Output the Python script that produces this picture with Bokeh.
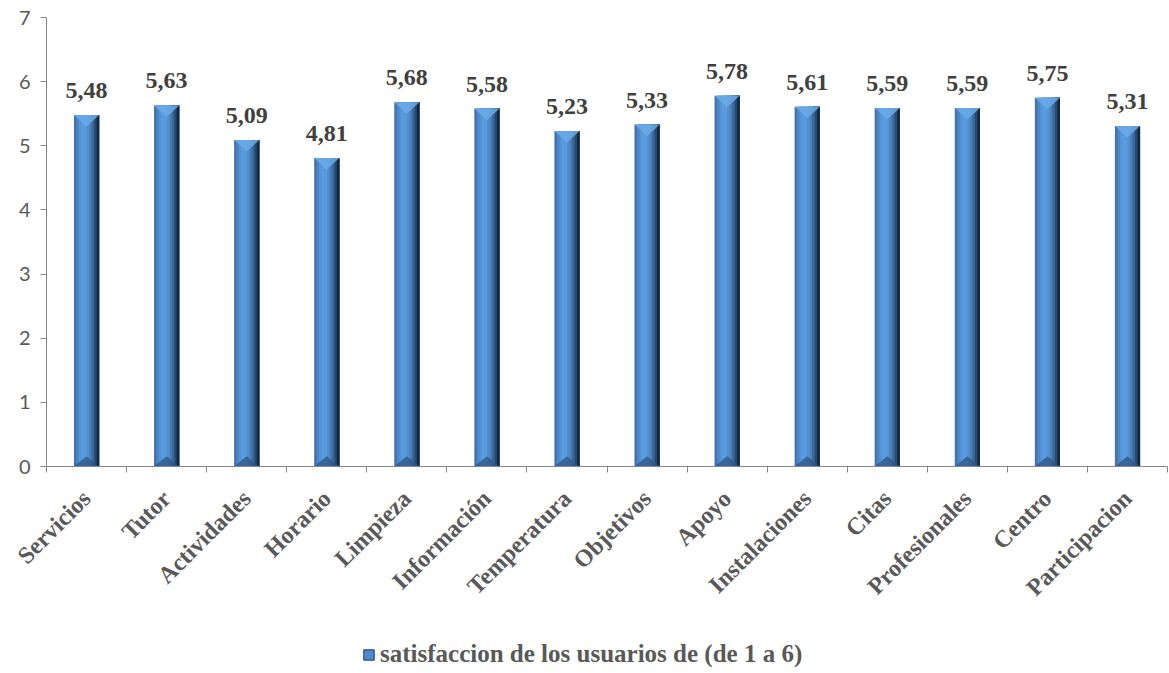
from bokeh.plotting import figure
from bokeh.models import (Range1d, FixedTicker, LinearAxis, Legend, LegendItem,
                          ColumnDataSource, LabelSet)
from bokeh.layouts import column
from bokeh.embed import file_html
from bokeh.resources import INLINE
import math

categories = ["Servicios", "Tutor", "Actividades", "Horario", "Limpieza", "Información",
              "Temperatura", "Objetivos", "Apoyo", "Instalaciones", "Citas",
              "Profesionales", "Centro", "Participacion"]
values = [5.48, 5.63, 5.09, 4.81, 5.68, 5.58, 5.23, 5.33, 5.78, 5.61, 5.59, 5.59, 5.75, 5.31]
value_labels = ["5,48", "5,63", "5,09", "4,81", "5,68", "5,58", "5,23", "5,33",
                "5,78", "5,61", "5,59", "5,59", "5,75", "5,31"]
y_ticks = [0, 1, 2, 3, 4, 5, 6, 7]
series_name = "satisfaccion de los usuarios de (de 1 a 6)"

n = len(categories)
centers = [i + 0.5 for i in range(n)]

p = figure(width=1169, height=640, output_backend="svg", toolbar_location=None,
           x_range=Range1d(0, n), y_range=Range1d(0, 7),
           min_border_left=46, min_border_right=2, min_border_top=17, min_border_bottom=174,
           x_axis_type=None, y_axis_type=None)
p.outline_line_color = None
p.xgrid.visible = False
p.ygrid.visible = False
p.background_fill_color = "white"
p.border_fill_color = "white"

# bars drawn as overlapping vertical strips (gradient), each running to the bar's right edge
bar_w = 0.314
strip_colors = ["#4474ab", "#4d86c6", "#5594d6", "#5b9cdf", "#5a9adc",
                "#5490ce", "#4a7fba", "#3b689a", "#294a70", "#16273b"]
ns = len(strip_colors)
sw = bar_w / ns
for k, col in enumerate(strip_colors):
    left = -bar_w / 2 + sw * k
    right = bar_w / 2
    p.vbar(x=[c + (left + right) / 2 for c in centers], top=values, bottom=0,
           width=right - left, fill_color=col, line_color=None)

# top bevel (light V) and bottom bevel (dark)
d_top = 0.18
d_bot = 0.16
top_xs, top_ys, bot_xs, bot_ys = [], [], [], []
for c, v in zip(centers, values):
    top_xs.append([c - bar_w / 2, c + bar_w / 2, c])
    top_ys.append([v, v, v - d_top])
    bot_xs.append([c - bar_w / 2, c + bar_w / 2, c])
    bot_ys.append([0, 0, d_bot])
p.patches(top_xs, top_ys, fill_color="#6aaae8", fill_alpha=0.85, line_color=None)
p.patches(bot_xs, bot_ys, fill_color="#2d5686", fill_alpha=0.75, line_color=None)

# value labels
src = ColumnDataSource(dict(x=centers, y=values, t=value_labels))
labels = LabelSet(x="x", y="y", text="t", source=src, y_offset=17,
                  text_align="center", text_baseline="alphabetic",
                  text_font="Liberation Serif", text_font_style="bold",
                  text_font_size="24px", text_color="#404040")
p.add_layout(labels)

# y axis
yaxis = LinearAxis(ticker=FixedTicker(ticks=y_ticks))
yaxis.axis_line_color = "#868686"
yaxis.major_tick_line_color = "#868686"
yaxis.major_tick_in = 0
yaxis.major_tick_out = 6
yaxis.minor_tick_line_color = None
yaxis.major_label_text_font = "Lato"
yaxis.major_label_text_font_size = "20px"
yaxis.major_label_text_color = "#595959"
yaxis.major_label_standoff = 10
p.add_layout(yaxis, "left")

# x axis: ticks at boundaries (minor), labels at centres
xaxis = LinearAxis(ticker=FixedTicker(ticks=centers, minor_ticks=list(range(n + 1))))
xaxis.axis_line_color = "#868686"
xaxis.major_tick_line_color = None
xaxis.minor_tick_line_color = "#868686"
xaxis.minor_tick_in = 0
xaxis.minor_tick_out = 6
xaxis.major_label_overrides = {c: name for c, name in zip(centers, categories)}
xaxis.major_label_orientation = math.pi / 4
xaxis.major_label_text_font = "Liberation Serif"
xaxis.major_label_text_font_style = "bold"
xaxis.major_label_text_font_size = "24px"
xaxis.major_label_text_color = "#595959"
xaxis.major_label_standoff = 22
p.add_layout(xaxis, "below")

# legend strip below the chart
p2 = figure(width=1169, height=33, output_backend="svg", toolbar_location=None,
            x_range=Range1d(0, 1), y_range=Range1d(0, 1),
            min_border_left=0, min_border_right=0, min_border_top=0, min_border_bottom=0,
            x_axis_type=None, y_axis_type=None)
p2.outline_line_color = None
p2.xgrid.visible = False
p2.ygrid.visible = False
# legend proxy: a bar kept outside the visible y range, only its legend glyph shows
proxy = p2.vbar(x=[0.5], top=[-1], bottom=[-2], width=0.01,
                fill_color="#4f8ad0", line_color="#1f3a5a")
legend = Legend(items=[LegendItem(label=series_name, renderers=[proxy])],
                location=(316, 5), orientation="horizontal",
                label_text_font="Liberation Serif", label_text_font_style="bold",
                label_text_font_size="25px", label_text_color="#595959",
                glyph_width=13, glyph_height=13, border_line_color=None,
                background_fill_alpha=0, padding=0, margin=0, spacing=4,
                label_standoff=5)
p2.add_layout(legend)

open("out.html", "w").write(file_html(column(p, p2, spacing=0), INLINE))
